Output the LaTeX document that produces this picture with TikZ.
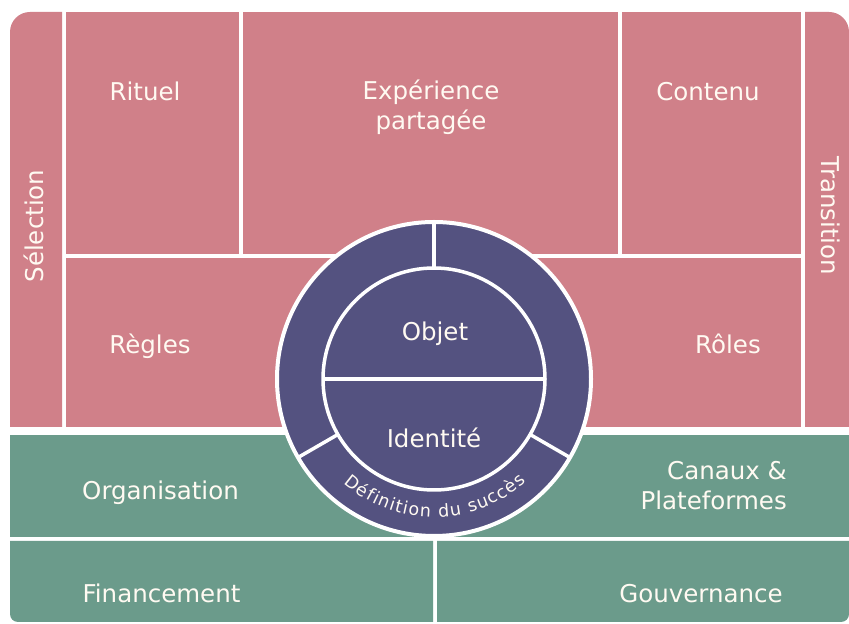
\documentclass[tikz,border=0pt]{standalone}
\usepackage{fontspec}
\setmainfont{DejaVu Sans}
\usetikzlibrary{calc,decorations.text}
\definecolor{pinkc}{RGB}{208,128,137}
\definecolor{greenc}{RGB}{107,155,139}
\definecolor{purplec}{RGB}{84,82,128}
\definecolor{textc}{RGB}{255,250,242}
\tikzset{
  lab/.style={text=textc, inner sep=0pt, font=\fontsize{24.5}{30}\selectfont},
  pinkbox/.style={fill=pinkc},
  greenbox/.style={fill=greenc},
  ringshape/.style={circle, draw=white, fill=purplec, line width=4pt, inner sep=0pt, outer sep=0pt},
  coreshape/.style={circle, draw=white, line width=3.5pt, inner sep=0pt, outer sep=0pt},
  sep/.style={draw=white, line width=3.5pt}
}
\begin{document}
\begin{tikzpicture}[x=1pt,y=1pt]
\useasboundingbox[fill=white] (0,0) rectangle (849,624);
% pink boxes
\path[pinkbox] (10,197) -- (10,592) arc[start angle=180, end angle=90, radius=20] -- (62,612) -- (62,197) -- cycle;
\path[pinkbox] (66,370) rectangle (239,612);
\path[pinkbox] (243,370) rectangle (618,612);
\path[pinkbox] (622,370) rectangle (801,612);
\path[pinkbox] (805,197) -- (805,612) -- (829,612) arc[start angle=90, end angle=0, radius=20] -- (849,197) -- cycle;
\path[pinkbox] (66,197) rectangle (440,366);
\path[pinkbox] (440,197) rectangle (801,366);
% green boxes
\path[greenbox] (10,87) rectangle (434,189);
\path[greenbox] (434,87) rectangle (849,189);
\path[greenbox] (433,83) -- (10,83) -- (10,10) arc[start angle=180, end angle=270, radius=8] -- (433,2) -- cycle;
\path[greenbox] (437,83) -- (849,83) -- (849,10) arc[start angle=0, end angle=-90, radius=8] -- (437,2) -- cycle;
% circle
\node[ringshape, minimum size=314pt] (ring) at (434,245) {};
\node[coreshape, minimum size=222pt] (core) at (434,245) {};
\draw[sep] (core.west) -- (core.east);
\draw[sep] (core.90) -- (ring.90);
\draw[sep] (core.210) -- (ring.210);
\draw[sep] (core.330) -- (ring.330);
\path[decorate, decoration={text along path, text align={fit to path},
  text={|\fontsize{17.5}{19}\selectfont\color{textc}|Définition du succès}}]
  ($(ring.center)+(229:138)$) arc[start angle=229, end angle=312, radius=138];
% labels
\node[lab, anchor=base] (rituel) at (145,523) {Rituel};
\node[lab, align=center] (experience) at (431,516.5) {Expérience\\partagée};
\node[lab, anchor=base] (contenu) at (708,523) {Contenu};
\node[lab, anchor=base] (regles) at (150,270) {Règles};
\node[lab, anchor=base] (roles) at (728,270) {Rôles};
\node[lab, anchor=base] (objet) at (435,283) {Objet};
\node[lab, anchor=base] (identite) at (434,176) {Identité};
\node[lab, anchor=base] (organisation) at (160.5,124) {Organisation};
\node[lab, align=right, anchor=east] (canaux) at (787,138) {Canaux \&\\Plateformes};
\node[lab, anchor=base] (financement) at (161.5,21) {Financement};
\node[lab, anchor=base] (gouvernance) at (701,21) {Gouvernance};
\node[lab, anchor=base, rotate=90] (selection) at (43,398) {Sélection};
\node[lab, anchor=base, rotate=-90] (transition) at (821,408) {Transition};
\end{tikzpicture}
\end{document}
